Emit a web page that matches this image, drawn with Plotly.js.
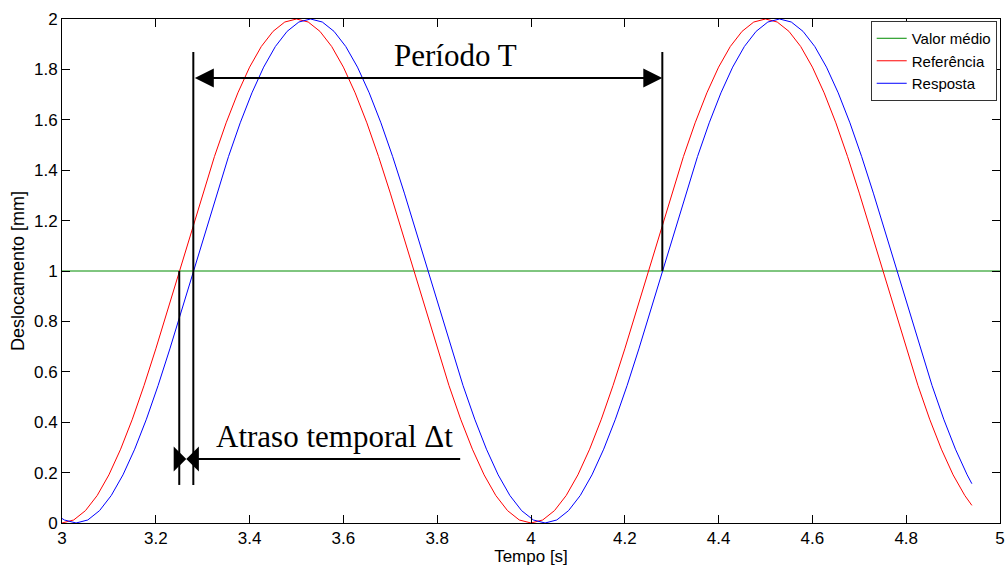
<!DOCTYPE html>
<html>
<head>
<meta charset="utf-8">
<script src="https://cdn.plot.ly/plotly-3.0.1.min.js"></script>
<style>html,body{margin:0;padding:0;background:#fff;}</style>
</head>
<body>
<div id="chart" style="width:1006px;height:566px;"></div>
<script>
// Series names
const seriesNames = ['Valor médio', 'Referência', 'Resposta'];

// Mean value line
const meanX = [3, 5];
const meanY = [1, 1];

// Reference (red)
const refX = [
  3, 3.025, 3.05, 3.075, 3.1, 3.125, 3.15, 3.175, 3.2, 3.225,
  3.25, 3.275, 3.3, 3.325, 3.35, 3.375, 3.4, 3.425, 3.45, 3.475,
  3.5, 3.525, 3.55, 3.575, 3.6, 3.625, 3.65, 3.675, 3.7, 3.725,
  3.75, 3.775, 3.8, 3.825, 3.85, 3.875, 3.9, 3.925, 3.95, 3.975,
  4, 4.025, 4.05, 4.075, 4.1, 4.125, 4.15, 4.175, 4.2, 4.225,
  4.25, 4.275, 4.3, 4.325, 4.35, 4.375, 4.4, 4.425, 4.45, 4.475,
  4.5, 4.525, 4.55, 4.575, 4.6, 4.625, 4.65, 4.675, 4.7, 4.725,
  4.75, 4.775, 4.8, 4.825, 4.85, 4.875, 4.9, 4.925, 4.94
];
const refY = [
  0, 0.012, 0.049, 0.109, 0.191, 0.293, 0.412, 0.546, 0.691, 0.844,
  1.0, 1.156, 1.309, 1.454, 1.588, 1.707, 1.809, 1.891, 1.951, 1.988,
  2.0, 1.988, 1.951, 1.891, 1.809, 1.707, 1.588, 1.454, 1.309, 1.156,
  1.0, 0.844, 0.691, 0.546, 0.412, 0.293, 0.191, 0.109, 0.049, 0.012,
  0, 0.012, 0.049, 0.109, 0.191, 0.293, 0.412, 0.546, 0.691, 0.844,
  1.0, 1.156, 1.309, 1.454, 1.588, 1.707, 1.809, 1.891, 1.951, 1.988,
  2.0, 1.988, 1.951, 1.891, 1.809, 1.707, 1.588, 1.454, 1.309, 1.156,
  1.0, 0.844, 0.691, 0.546, 0.412, 0.293, 0.191, 0.109, 0.070
];

// Response (blue)
const respX = [
  3, 3.005,
  3.03, 3.055, 3.08, 3.105, 3.13, 3.155, 3.18, 3.205, 3.23, 3.255,
  3.28, 3.305, 3.33, 3.355, 3.38, 3.405, 3.43, 3.455, 3.48, 3.505,
  3.53, 3.555, 3.58, 3.605, 3.63, 3.655, 3.68, 3.705, 3.73, 3.755,
  3.78, 3.805, 3.83, 3.855, 3.88, 3.905, 3.93, 3.955, 3.98, 4.005,
  4.03, 4.055, 4.08, 4.105, 4.13, 4.155, 4.18, 4.205, 4.23, 4.255,
  4.28, 4.305, 4.33, 4.355, 4.38, 4.405, 4.43, 4.455, 4.48, 4.505,
  4.53, 4.555, 4.58, 4.605, 4.63, 4.655, 4.68, 4.705, 4.73, 4.755,
  4.78, 4.805, 4.83, 4.855, 4.88, 4.905, 4.93,
  4.94
];
const respY = [
  0.018, 0.012,
  0, 0.012, 0.049, 0.109, 0.191, 0.293, 0.412, 0.546, 0.691, 0.844,
  1.0, 1.156, 1.309, 1.454, 1.588, 1.707, 1.809, 1.891, 1.951, 1.988,
  2.0, 1.988, 1.951, 1.891, 1.809, 1.707, 1.588, 1.454, 1.309, 1.156,
  1.0, 0.844, 0.691, 0.546, 0.412, 0.293, 0.191, 0.109, 0.049, 0.012,
  0, 0.012, 0.049, 0.109, 0.191, 0.293, 0.412, 0.546, 0.691, 0.844,
  1.0, 1.156, 1.309, 1.454, 1.588, 1.707, 1.809, 1.891, 1.951, 1.988,
  2.0, 1.988, 1.951, 1.891, 1.809, 1.707, 1.588, 1.454, 1.309, 1.156,
  1.0, 0.844, 0.691, 0.546, 0.412, 0.293, 0.191,
  0.156
];

// Annotation marker positions (data units)
const crossT = [3.25, 3.28, 4.28];      // ref crossing, resp crossing, next resp crossing
const markLevels = [0.151, 1.0, 1.869];  // bottom of delay markers, mean level, top of period markers
const periodArrowY = 1.766;
const delayArrowY = 0.254;
const delayLineEnd = 3.849;
const labelTexts = ['Período T', 'Atraso temporal Δt'];
const labelPos = [[3.838, 1.855], [3.58, 0.343]];

const sans = 'Liberation Sans, Arial, sans-serif';
const serif = 'Liberation Serif, Times New Roman, serif';

const traces = [
  {x: meanX, y: meanY, name: seriesNames[0], mode: 'lines', line: {color: 'rgb(0,140,0)', width: 1}},
  {x: refX, y: refY, name: seriesNames[1], mode: 'lines', line: {color: 'rgb(255,0,0)', width: 1}},
  {x: respX, y: respY, name: seriesNames[2], mode: 'lines', line: {color: 'rgb(0,0,255)', width: 1}}
];

const blk = {color: 'black', width: 2};
const shapes = [
  {type: 'line', xref: 'x', yref: 'y', x0: crossT[0], x1: crossT[0], y0: markLevels[0], y1: markLevels[1], line: blk},
  {type: 'line', xref: 'x', yref: 'y', x0: crossT[1], x1: crossT[1], y0: markLevels[0], y1: markLevels[2], line: blk},
  {type: 'line', xref: 'x', yref: 'y', x0: crossT[2], x1: crossT[2], y0: markLevels[1], y1: markLevels[2], line: blk},
  {type: 'line', xref: 'x', yref: 'y', x0: crossT[1], x1: delayLineEnd, y0: delayArrowY, y1: delayArrowY, line: blk}
];

const midDelay = (crossT[0] + crossT[1]) / 2;
const annotations = [
  {x: crossT[2], y: periodArrowY, ax: crossT[1], ay: periodArrowY, axref: 'x', ayref: 'y', xref: 'x', yref: 'y',
   text: '', showarrow: true, arrowside: 'end+start', arrowhead: 2, arrowsize: 1.9, arrowwidth: 2, arrowcolor: 'black', standoff: 0, startstandoff: 0},
  {x: midDelay, y: delayArrowY, ax: crossT[0], ay: delayArrowY, axref: 'x', ayref: 'y', xref: 'x', yref: 'y',
   text: '', showarrow: true, arrowhead: 1, arrowsize: 2.1, arrowwidth: 2, arrowcolor: 'black', standoff: 0},
  {x: midDelay, y: delayArrowY, ax: crossT[1], ay: delayArrowY, axref: 'x', ayref: 'y', xref: 'x', yref: 'y',
   text: '', showarrow: true, arrowhead: 1, arrowsize: 2.1, arrowwidth: 2, arrowcolor: 'black', standoff: 0},
  {x: labelPos[0][0], y: labelPos[0][1], xref: 'x', yref: 'y', text: labelTexts[0], showarrow: false,
   font: {family: serif, size: 31, color: 'black'}, xanchor: 'center', yanchor: 'middle'},
  {x: labelPos[1][0], y: labelPos[1][1], xref: 'x', yref: 'y', text: labelTexts[1], showarrow: false,
   font: {family: serif, size: 31, color: 'black'}, xanchor: 'center', yanchor: 'middle'}
];

const axisCommon = {
  showline: true, linecolor: 'black', linewidth: 1, mirror: 'ticks',
  ticks: 'inside', ticklen: 8, tickwidth: 1, tickcolor: 'black',
  showgrid: false, zeroline: false,
  tickfont: {family: sans, size: 17, color: 'black'}
};

const layout = {
  width: 1006, height: 566,
  margin: {l: 62, r: 6, t: 19, b: 43},
  paper_bgcolor: 'white', plot_bgcolor: 'white',
  font: {family: sans, color: 'black'},
  showlegend: true,
  legend: {x: 0.9965, y: 0.996, xanchor: 'right', yanchor: 'top',
           bgcolor: 'white', bordercolor: '#333', borderwidth: 1,
           font: {family: sans, size: 15, color: 'black'}, tracegroupgap: 0, itemwidth: 30},
  xaxis: Object.assign({}, axisCommon, {range: [3, 5], tick0: 3, dtick: 0.2,
           title: {text: 'Tempo [s]', font: {family: sans, size: 17, color: 'black'}, standoff: 4}}),
  yaxis: Object.assign({}, axisCommon, {range: [0, 2], tick0: 0, dtick: 0.2,
           title: {text: 'Deslocamento [mm]', font: {family: sans, size: 18, color: 'black'}, standoff: 4}}),
  shapes: shapes,
  annotations: annotations
};

Plotly.newPlot('chart', traces, layout, {displayModeBar: false, staticPlot: true});
</script>
</body>
</html>
